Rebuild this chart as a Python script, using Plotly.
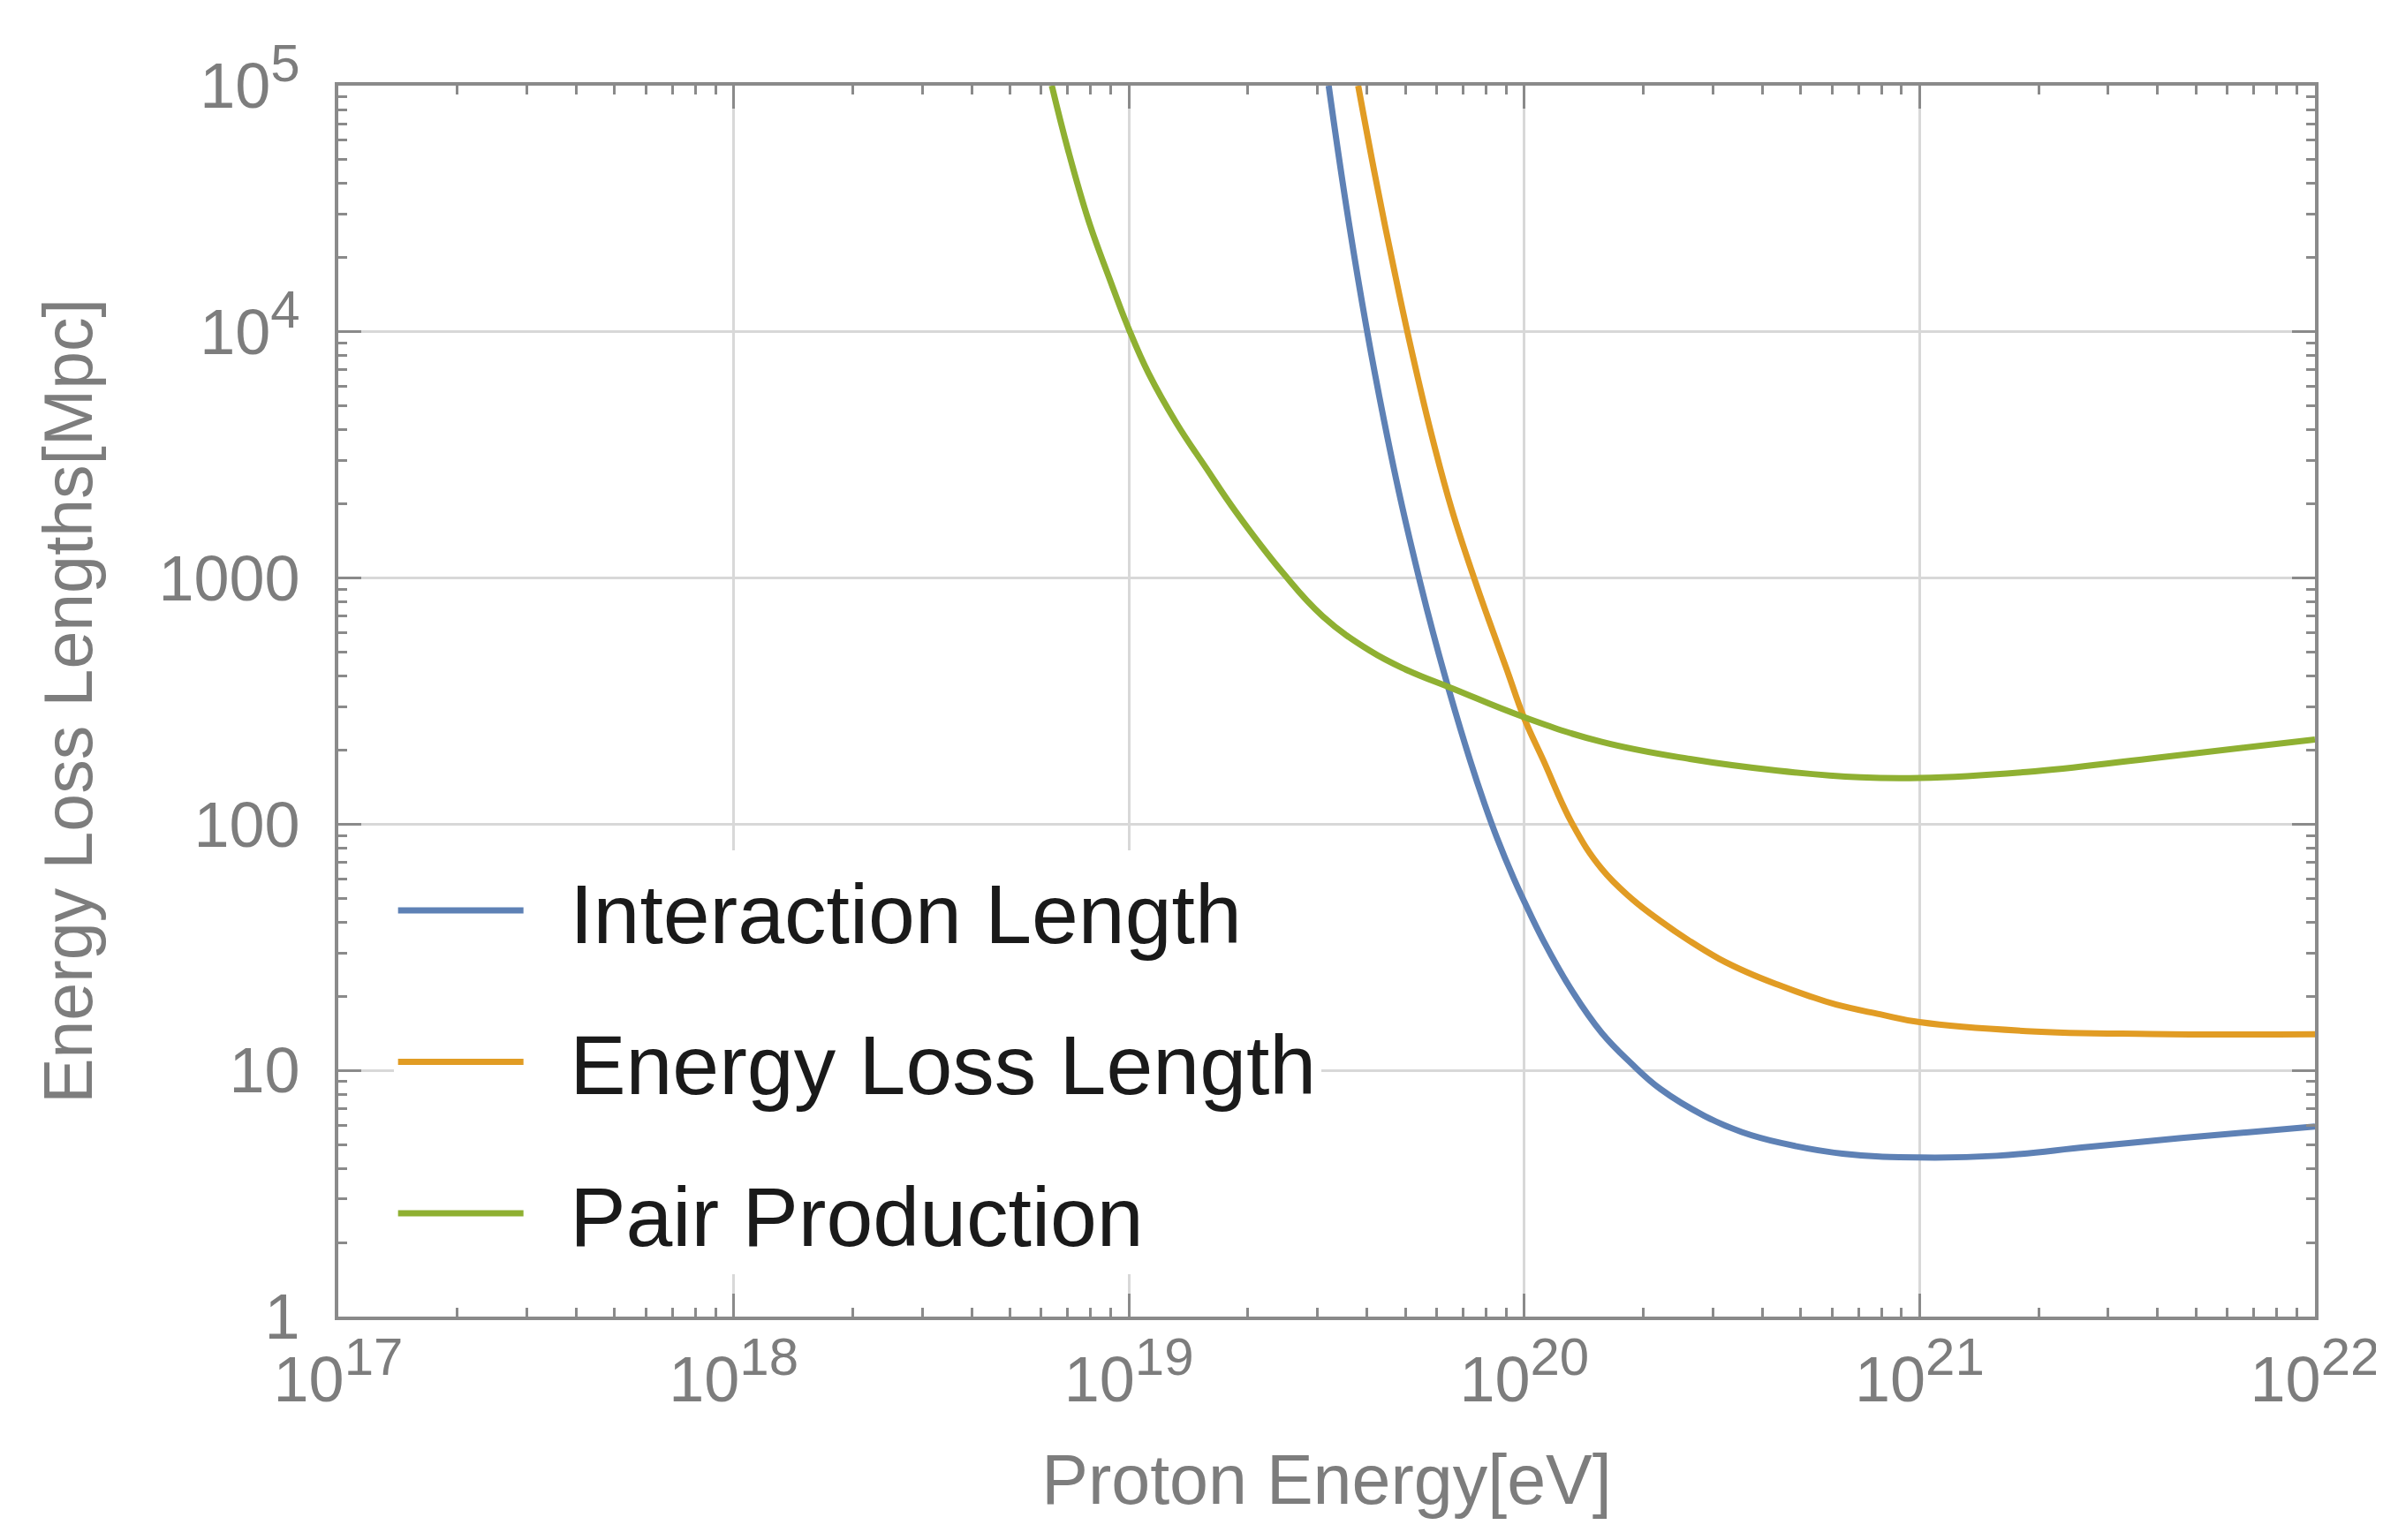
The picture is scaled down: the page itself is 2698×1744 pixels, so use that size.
import plotly.graph_objects as go

# ---------------- data ----------------
# Interaction Length
int_energy = [3.20e19, 3.55e19, 3.98e19, 4.42e19, 4.90e19, 5.45e19, 5.89e19,
              6.46e19, 7.29e19, 7.94e19, 8.51e19, 9.42e19, 1.0e20, 1.117e20, 1.324e20,
              1.570e20, 1.862e20, 2.208e20, 2.858e20, 3.548e20, 4.467e20, 6.383e20,
              1.0e21, 1.567e21, 2.679e21, 4.592e21, 1.0e22]
int_length = [1.0e5, 31990, 10590, 4345, 1977, 962, 592,
              347, 182, 120.5, 88.9, 59.8, 48.5, 33.7, 20.9,
              14.2, 10.7, 8.41, 6.53, 5.62, 5.07, 4.59,
              4.43, 4.50, 4.89, 5.31, 5.92]

# Energy Loss Length
loss_energy = [3.80e19, 4.21e19, 4.66e19, 5.11e19, 5.83e19, 6.55e19, 7.50e19, 8.13e19,
               9.02e19, 1.0e20, 1.117e20, 1.324e20, 1.570e20, 1.862e20, 2.208e20,
               2.624e20, 3.112e20, 3.690e20, 4.375e20, 5.188e20, 6.152e20, 7.943e20,
               1.0e21, 1.862e21, 3.837e21, 1.0e22]
loss_length = [1.0e5, 41690, 18620, 9333, 3802, 1905, 977, 676,
               427, 269, 182, 100, 65.8, 50.1, 40.5,
               33.5, 28.4, 24.9, 22.3, 20.2, 18.5, 16.9,
               15.7, 14.45, 14.06, 14.03]

# Pair Production
pair_energy = [6.38e18, 7.01e18, 7.91e18, 8.91e18, 1.0e19, 1.122e19, 1.318e19, 1.563e19,
               1.862e19, 2.455e19, 3.090e19, 4.064e19, 5.012e19, 6.607e19, 1.0e20,
               1.570e20, 2.624e20, 4.375e20, 7.079e20, 1.0e21, 1.862e21, 3.837e21, 1.0e22]
pair_length = [1.0e5, 54950, 28180, 16600, 10230, 6761, 4266, 2818,
               1862, 1047, 700, 507, 425, 355, 272,
               216, 184, 165, 155, 154, 163, 185, 221]

series_names = ["Interaction Length", "Energy Loss Length", "Pair Production"]
series_colors = ["#5E81B5", "#E19C24", "#8FB032"]

SUP = '<sup><span style="font-size:60px">{}</span></sup>'
x_tick_vals = [1e17, 1e18, 1e19, 1e20, 1e21, 1e22]
x_tick_text = ["10" + SUP.format(p) for p in ["17", "18", "19", "20", "21", "22"]]
y_tick_vals = [1.0, 10.0, 100.0, 1000.0, 1e4, 1e5]
y_tick_text = ["1", "10", "100", "1000", "10" + SUP.format("4"), "10" + SUP.format("5")]

x_minor = [float(m) * 10.0 ** d for d in range(17, 22) for m in range(2, 10)]
y_minor = [float(m) * 10.0 ** d for d in range(0, 5) for m in range(2, 10)]

# ---------------- figure ----------------
FONT = "Liberation Sans, Arial, sans-serif"
AXIS_GRAY = "#8a8a8a"
LABEL_GRAY = "#7d7d7d"

fig = go.Figure()
xs = [int_energy, loss_energy, pair_energy]
ys = [int_length, loss_length, pair_length]
pad = "\u2005\u2005"
for i in range(3):
    fig.add_trace(go.Scatter(
        x=xs[i], y=ys[i], mode="lines", name=pad + series_names[i],
        legendgroup=str(i),
        line=dict(color=series_colors[i], width=7, shape="spline", smoothing=1.2),
    ))

axis_common = dict(
    type="log",
    showline=True, linecolor=AXIS_GRAY, linewidth=4, mirror="allticks",
    showgrid=True, gridcolor="#d8d8d8", gridwidth=3,
    ticks="inside", ticklen=26, tickwidth=3, tickcolor=AXIS_GRAY,
    tickmode="array",
    tickfont=dict(family=FONT, size=72, color=LABEL_GRAY),
    zeroline=False,
)

fig.update_layout(
    width=2698, height=1744,
    margin=dict(l=375, r=74, t=89, b=261),
    paper_bgcolor="white", plot_bgcolor="white",
    font=dict(family=FONT, color=LABEL_GRAY),
    xaxis=dict(
        **axis_common,
        range=[17, 22],
        tickvals=x_tick_vals, ticktext=x_tick_text,
        minor=dict(tickmode="array", tickvals=x_minor, ticks="inside", ticklen=10,
                   tickwidth=3, tickcolor=AXIS_GRAY, showgrid=False),
        title=dict(text="Proton Energy[eV]", font=dict(family=FONT, size=79, color=LABEL_GRAY),
                   standoff=47),
        ticklabelstandoff=6,
    ),
    yaxis=dict(
        **axis_common,
        range=[0, 5],
        tickvals=y_tick_vals, ticktext=y_tick_text,
        minor=dict(tickmode="array", tickvals=y_minor, ticks="inside", ticklen=10,
                   tickwidth=3, tickcolor=AXIS_GRAY, showgrid=False),
        title=dict(text="Energy Loss Lengths[Mpc]", font=dict(family=FONT, size=77, color=LABEL_GRAY),
                   standoff=50),
        ticklabelstandoff=25,
    ),
    legend=dict(
        x=0.028, y=0.379, xanchor="left", yanchor="top",
        bgcolor="white", borderwidth=0,
        font=dict(family=FONT, size=95, color="#1a1a1a"),
        itemwidth=142, tracegroupgap=45,
    ),
    showlegend=True,
)

fig.write_html("out.html")
